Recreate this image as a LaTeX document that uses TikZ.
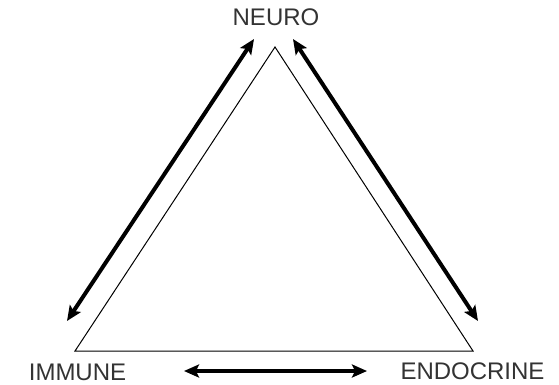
\documentclass[tikz,border=0pt]{standalone}
\usepackage{fontspec}
\setmainfont{Liberation Sans}
\usetikzlibrary{arrows.meta}
\begin{document}
\begin{tikzpicture}[x=1pt,y=-1pt,
  lbl/.style={inner sep=0pt,font=\fontsize{24}{24}\selectfont,text=black!80},
  tri/.style={draw=black,line width=1pt,line join=miter},
  dbl/.style={line width=4pt,{Stealth[length=15pt,width=13pt,inset=3pt]}-{Stealth[length=15pt,width=13pt,inset=3pt]}}]
\useasboundingbox (0,0) rectangle (559,384);
\coordinate (apex) at (275,47);
\coordinate (bl) at (75,351);
\coordinate (br) at (473,351);
\draw[tri] (apex) -- (bl) -- (br) -- cycle;
\node[lbl] (neuro) at (276,17) {NEURO};
\node[lbl] (immune) at (77.5,372) {IMMUNE};
\node[lbl] (endo) at (472.5,371) {ENDOCRINE};
\coordinate (l1) at (67,321);
\coordinate (l2) at (254,39);
\coordinate (r1) at (293,39);
\coordinate (r2) at (478,321);
\coordinate (b1) at (184,371);
\coordinate (b2) at (367,371);
\draw[dbl] (l1) -- (l2);
\draw[dbl] (r1) -- (r2);
\draw[dbl] (b1) -- (b2);
\end{tikzpicture}
\end{document}
